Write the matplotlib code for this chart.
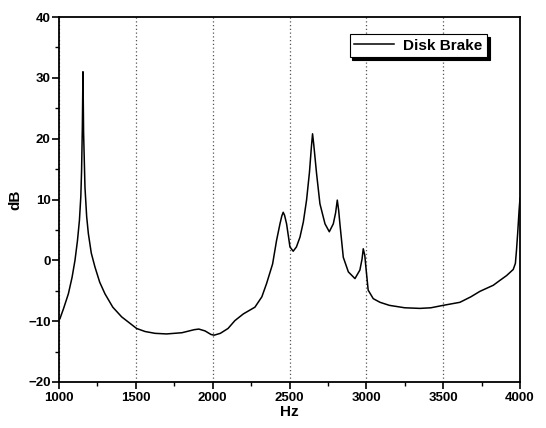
import matplotlib
matplotlib.use("Agg")
import matplotlib.pyplot as plt
from matplotlib.ticker import MultipleLocator

freq_hz = [1000, 1006, 1030, 1061, 1085, 1104, 1120, 1133, 1142, 1147, 1152, 1156,
           1160, 1169, 1180, 1191, 1210, 1234, 1265, 1299, 1350, 1408, 1505, 1560, 1625,
           1700, 1800, 1880, 1910, 1950, 1990, 2010, 2050, 2100, 2145, 2200, 2275,
           2320, 2351, 2390, 2416, 2438, 2450, 2459, 2468, 2481, 2503, 2524, 2545,
           2568, 2590, 2611, 2630, 2642, 2650, 2658, 2676, 2698, 2731, 2759, 2785,
           2800, 2811, 2820, 2828, 2850, 2883, 2926, 2958, 2972, 2980, 2990, 2997,
           3012, 3045, 3089, 3150, 3250, 3349, 3420, 3500, 3609, 3680, 3739, 3826,
           3869, 3913, 3956, 3970, 3977, 3985, 3994, 4000]
level_db = [-9.8, -9.6, -7.9, -5.5, -2.8, 0.0, 3.2, 6.6, 10.5, 14.8, 22.0, 31.0,
            21.0, 12.0, 7.2, 4.4, 1.2, -1.1, -3.6, -5.5, -7.7, -9.3, -11.2, -11.7, -12.0,
            -12.1, -11.9, -11.4, -11.3, -11.6, -12.2, -12.3, -12.0, -11.2, -9.9, -8.8, -7.7,
            -6.0, -3.8, -0.6, 3.3, 6.0, 7.3, 7.9, 7.4, 6.0, 2.2, 1.5, 2.2,
            3.8, 6.3, 9.9, 14.5, 18.5, 20.8, 19.0, 14.3, 9.3, 6.0, 4.7, 6.0,
            7.8, 9.9, 8.2, 6.0, 0.5, -1.9, -3.0, -1.6, 0.2, 1.9, 0.8, -1.1,
            -4.9, -6.3, -6.9, -7.4, -7.8, -7.9, -7.8, -7.4, -6.9, -6.0, -5.1, -4.1,
            -3.3, -2.5, -1.5, -0.5, 1.6, 4.5, 8.2, 10.2]

series_name = "Disk Brake"
x_label = "Hz"
y_label = "dB"
x_ticks = [1000, 1500, 2000, 2500, 3000, 3500, 4000]
y_ticks = [-20, -10, 0, 10, 20, 30, 40]

plt.rcParams['font.family'] = ['Liberation Sans', 'DejaVu Sans']
fig = plt.figure(figsize=(5.46, 4.28), dpi=100)
ax = fig.add_axes([59/546, 1-382/428, (520-59)/546, (382-17)/428])

ax.plot(freq_hz, level_db, color='black', lw=1.1, label=series_name)
ax.set_xlim(1000, 4000)
ax.set_ylim(-20, 40)
ax.set_xticks(x_ticks)
ax.set_yticks(y_ticks)
ax.xaxis.set_minor_locator(MultipleLocator(250))
ax.yaxis.set_minor_locator(MultipleLocator(5))
ax.tick_params(which='major', direction='out', length=5, width=1.2, labelsize=9.5)
ax.tick_params(which='minor', direction='out', length=3, width=1.0)
for lab in ax.get_xticklabels() + ax.get_yticklabels():
    lab.set_fontweight('bold')
ax.tick_params(axis='x', pad=2)
ax.tick_params(axis='y', pad=1)
for s in ax.spines.values():
    s.set_linewidth(1.3)
ax.grid(axis='x', which='major', linestyle=(0, (1, 2)), color='#555555', lw=0.9)
ax.set_xlabel(x_label, fontsize=11, fontweight='bold', labelpad=1)
ax.set_ylabel(y_label, fontsize=11, fontweight='bold', labelpad=4)

leg = ax.legend(loc='upper right', bbox_to_anchor=(0.928, 0.953), frameon=True, fancybox=False,
                shadow={'color': 'black', 'alpha': 1.0}, prop={'weight': 'bold', 'size': 11},
                handlelength=2.6, handletextpad=0.6, borderpad=0.3, borderaxespad=0)
leg.get_frame().set_edgecolor('black')
leg.get_frame().set_linewidth(0.8)

fig.savefig('out.png', dpi=100)
